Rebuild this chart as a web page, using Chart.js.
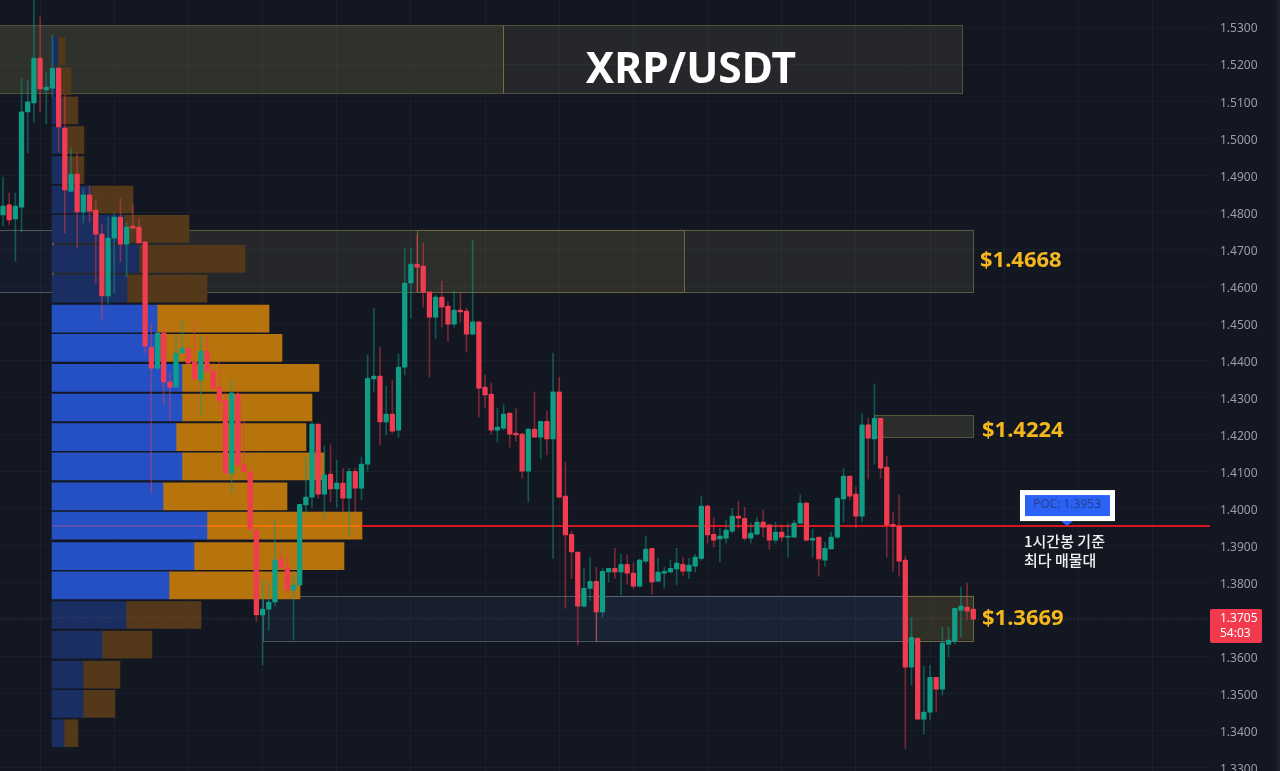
<!DOCTYPE html>
<html lang="ko">
<head>
<meta charset="utf-8">
<title>XRP/USDT</title>
<script src="https://cdn.jsdelivr.net/npm/chart.js@4/dist/chart.umd.min.js"></script>
<style>
  html, body { margin: 0; padding: 0; background: #131722; overflow: hidden; }
  canvas { display: block; }
</style>
</head>
<body>
<canvas id="chart" width="1280" height="771"></canvas>
<script>
// ===== Data =====
const opens = [
  1.4793,1.4820,1.4782,1.4814,1.5071,1.5095,1.5216,1.5130,1.5135,1.5189,
  1.5027,1.4857,1.4903,1.4801,1.4847,1.4806,1.4741,1.4574,1.4730,1.4787,
  1.4714,1.4763,1.4760,1.4720,1.4436,1.4379,1.4474,1.4342,1.4328,1.4420,
  1.4433,1.4396,1.4347,1.4425,1.4371,1.4328,1.4293,1.4096,1.4309,1.4118,
  1.4099,1.3942,1.3713,1.3729,1.3748,1.3864,1.3842,1.3780,1.3794,1.4010,
  1.4031,1.4228,1.4039,1.4093,1.4053,1.4069,1.4028,1.4101,1.4055,1.4120,
  1.4350,1.4358,1.4234,1.4255,1.4212,1.4382,1.4609,1.4660,1.4655,1.4585,
  1.4517,1.4571,1.4547,1.4498,1.4536,1.4533,1.4471,1.4504,1.4328,1.4309,
  1.4212,1.4217,1.4258,1.4204,1.4201,1.4101,1.4215,1.4193,1.4236,1.4188,
  1.4315,1.4034,1.3931,1.3883,1.3737,1.3785,1.3804,1.3721,1.3829,1.3839,
  1.3829,1.3850,1.3826,1.3791,1.3858,1.3893,1.3804,1.3826,1.3829,1.3837,
  1.3850,1.3831,1.3845,1.3866,1.4007,1.3931,1.3918,1.3920,1.3939,1.3980,
  1.3974,1.3920,1.3931,1.3964,1.3956,1.3915,1.3937,1.3923,1.3923,1.3961,
  1.4015,1.3915,1.3923,1.3861,1.3891,1.3923,1.4026,1.4088,1.4039,1.3980,
  1.4226,1.4188,1.4244,1.4112,1.3958,1.3953,1.3861,1.3572,1.3650,1.3432,
  1.3451,1.3545,1.3513,1.3634,1.3642,1.3726,1.3734,1.3729
];
const closes = [
  1.4817,1.4779,1.4817,1.5071,1.5098,1.5216,1.5133,1.5138,1.5189,1.5030,
  1.4860,1.4903,1.4801,1.4847,1.4803,1.4741,1.4574,1.4730,1.4787,1.4714,
  1.4760,1.4757,1.4717,1.4439,1.4379,1.4474,1.4342,1.4328,1.4420,1.4433,
  1.4393,1.4350,1.4425,1.4371,1.4325,1.4290,1.4096,1.4312,1.4118,1.4099,
  1.3945,1.3713,1.3729,1.3748,1.3861,1.3842,1.3780,1.3794,1.4012,1.4031,
  1.4228,1.4039,1.4091,1.4053,1.4069,1.4028,1.4101,1.4055,1.4120,1.4352,
  1.4358,1.4234,1.4255,1.4209,1.4382,1.4609,1.4660,1.4652,1.4585,1.4517,
  1.4571,1.4544,1.4498,1.4536,1.4531,1.4471,1.4504,1.4325,1.4307,1.4212,
  1.4220,1.4255,1.4201,1.4199,1.4101,1.4215,1.4193,1.4236,1.4188,1.4315,
  1.4031,1.3929,1.3883,1.3737,1.3785,1.3804,1.3721,1.3831,1.3839,1.3829,
  1.3850,1.3826,1.3791,1.3861,1.3891,1.3802,1.3829,1.3831,1.3839,1.3853,
  1.3831,1.3848,1.3869,1.4007,1.3929,1.3915,1.3926,1.3942,1.3980,1.3974,
  1.3920,1.3934,1.3964,1.3950,1.3915,1.3937,1.3923,1.3926,1.3961,1.4015,
  1.3915,1.3920,1.3864,1.3893,1.3923,1.4028,1.4088,1.4034,1.3980,1.4226,
  1.4190,1.4244,1.4109,1.3956,1.3953,1.3858,1.3572,1.3653,1.3432,1.3451,
  1.3545,1.3513,1.3637,1.3645,1.3731,1.3737,1.3723,1.3702
];
const highs = [
  1.4895,1.4852,1.4852,1.5160,1.5157,1.5373,1.5327,1.5176,1.5279,1.5192,
  1.5117,1.4973,1.4960,1.4865,1.4871,1.4833,1.4766,1.4787,1.4798,1.4836,
  1.4771,1.4822,1.4784,1.4720,1.4501,1.4474,1.4496,1.4366,1.4469,1.4509,
  1.4436,1.4504,1.4466,1.4463,1.4393,1.4396,1.4312,1.4347,1.4320,1.4239,
  1.4099,1.3950,1.3807,1.3802,1.3969,1.3893,1.3877,1.3820,1.4012,1.4139,
  1.4234,1.4228,1.4169,1.4172,1.4131,1.4109,1.4109,1.4109,1.4139,1.4415,
  1.4541,1.4436,1.4331,1.4347,1.4417,1.4703,1.4703,1.4739,1.4717,1.4585,
  1.4577,1.4614,1.4558,1.4587,1.4582,1.4541,1.4725,1.4504,1.4361,1.4339,
  1.4271,1.4280,1.4258,1.4271,1.4204,1.4217,1.4315,1.4236,1.4263,1.4420,
  1.4355,1.4126,1.3939,1.3883,1.3839,1.3869,1.3842,1.3839,1.3839,1.3893,
  1.3877,1.3875,1.3853,1.3864,1.3926,1.3893,1.3866,1.3842,1.3861,1.3893,
  1.3869,1.3866,1.3877,1.4034,1.4010,1.3977,1.3947,1.3969,1.4001,1.4020,
  1.4004,1.3961,1.3977,1.3996,1.3956,1.3964,1.3956,1.3961,1.3969,1.4037,
  1.4018,1.3945,1.3923,1.3910,1.3937,1.4031,1.4109,1.4088,1.4058,1.4258,
  1.4244,1.4336,1.4244,1.4142,1.3991,1.4037,1.3872,1.3707,1.3653,1.3575,
  1.3577,1.3545,1.3680,1.3680,1.3731,1.3788,1.3799,1.3729
];
const lows = [
  1.4763,1.4766,1.4668,1.4747,1.4960,1.5044,1.5071,1.5038,1.5111,1.4963,
  1.4744,1.4855,1.4703,1.4771,1.4774,1.4609,1.4509,1.4552,1.4582,1.4666,
  1.4625,1.4757,1.4717,1.4420,1.4042,1.4374,1.4280,1.4239,1.4328,1.4420,
  1.4393,1.4347,1.4253,1.4371,1.4325,1.4258,1.4096,1.4042,1.4112,1.4099,
  1.3942,1.3696,1.3578,1.3672,1.3737,1.3839,1.3775,1.3645,1.3788,1.3988,
  1.4001,1.4028,1.3974,1.4018,1.4004,1.3991,1.3929,1.3991,1.4023,1.4101,
  1.4315,1.4172,1.4199,1.4204,1.4193,1.4361,1.4514,1.4585,1.4544,1.4355,
  1.4458,1.4490,1.4452,1.4490,1.4504,1.4423,1.4469,1.4247,1.4274,1.4201,
  1.4180,1.4212,1.4166,1.4182,1.4082,1.4018,1.4193,1.4134,1.4145,1.3866,
  1.4031,1.3731,1.3812,1.3632,1.3734,1.3753,1.3642,1.3707,1.3802,1.3812,
  1.3767,1.3796,1.3785,1.3788,1.3853,1.3769,1.3802,1.3785,1.3826,1.3794,
  1.3820,1.3812,1.3829,1.3861,1.3907,1.3896,1.3856,1.3907,1.3934,1.3947,
  1.3915,1.3907,1.3929,1.3923,1.3891,1.3907,1.3912,1.3869,1.3923,1.3958,
  1.3912,1.3869,1.3818,1.3845,1.3891,1.3920,1.3964,1.4023,1.3947,1.3964,
  1.4080,1.4120,1.4082,1.3869,1.3831,1.3818,1.3353,1.3524,1.3432,1.3391,
  1.3429,1.3451,1.3497,1.3599,1.3634,1.3653,1.3699,1.3702
];

// volume profile, one row per price band
const rowPrices = [
  1.5235,1.5154,1.5075,1.4995,1.4914,1.4834,1.4755,1.4674,1.4594,1.4513,1.4434,1.4353,
  1.4273,1.4193,1.4114,1.4033,1.3954,1.3872,1.3793,1.3713,1.3633,1.3552,1.3473,1.3394
];
const buyVolume  = [6,8,10,14,16,39,72,87,75,105,108,130,130,124,130,111,155,142,117,74,50,31,31,12];
const sellVolume = [7,11,16,18,16,42,65,106,80,112,122,137,130,130,142,124,155,150,131,75,50,37,32,14];
const brightRows = [9,10,11,12,13,14,15,16,17,18];

const pocPrice  = 1.3953;
const lastPrice = 1.3705;
const priceMin  = 1.32919;
const priceMax  = 1.53729;
const timeTicks = [6,18,30,42,54,66,78,90,102,114,126,138,150,162,174,186];

// [from candle, to candle, top price, bottom price, fill, line]
const zones = [
  [-1,   80.9, 1.5305, 1.5122, 'rgba(205,180,70,.07)',  '#6b683a'],
  [-1,  155.2, 1.5305, 1.5122, 'rgba(200,190,120,.10)', '#50533c'],
  [-1,    8,   1.4753, 1.4585, 'rgba(70,90,170,.07)',   '#4c5560'],
  [8,   157,   1.4753, 1.4585, 'rgba(200,190,120,.10)', '#565840'],
  [67,  110.2, 1.4753, 1.4585, 'rgba(205,180,70,.06)',  '#6b6a3e'],
  [141, 157,   1.4252, 1.4193, 'rgba(205,190,100,.13)', '#55563a'],
  [42,  146,   1.3765, 1.3644, 'rgba(90,130,190,.07)',  '#4a5666'],
  [96,  146,   1.3765, 1.3644, 'rgba(70,110,190,.07)',  '#5a6473'],
  [146, 157,   1.3765, 1.3644, 'rgba(205,180,70,.16)',  '#6b6a42']
];

// [text, price at which the label sits]
const levelLabels = [['$1.4668', 1.4668], ['$1.4224', 1.4210], ['$1.3669', 1.3702]];

// ===== Helpers =====
const UP = '#0f9d85', DOWN = '#f03c50';
const candleIdx = opens.map((_, i) => i);
const isUp = i => closes[i] >= opens[i];

// ===== Plugins =====
const zonesPlugin = {
  id: 'zones',
  beforeDatasetsDraw(chart) {
    const { ctx, scales: { x, y } } = chart;
    ctx.save();
    zones.forEach(([a, b, top, bottom, fill, line]) => {
      const x0 = x.getPixelForValue(a), x1 = x.getPixelForValue(b);
      const y0 = y.getPixelForValue(top), y1 = y.getPixelForValue(bottom);
      ctx.fillStyle = fill;
      ctx.fillRect(x0, y0, x1 - x0, y1 - y0);
      ctx.strokeStyle = line;
      ctx.lineWidth = 1;
      ctx.strokeRect(Math.round(x0) + .5, Math.round(y0) + .5, Math.round(x1 - x0), Math.round(y1 - y0));
    });
    ctx.restore();
  }
};

const labelsPlugin = {
  id: 'labels',
  afterDraw(chart) {
    const { ctx, scales: { y } } = chart;
    ctx.save();
    ctx.textBaseline = 'middle';

    // title
    ctx.fillStyle = '#ffffff';
    ctx.textAlign = 'center';
    ctx.font = 'bold 42.5px "Noto Sans"';
    ctx.fillText('XRP/USDT', 691, 71);

    // zone prices
    ctx.fillStyle = '#f4b81c';
    ctx.textAlign = 'left';
    ctx.font = 'bold 22px "Noto Sans"';
    levelLabels.forEach(([t, p], i) => {
      ctx.fillText(t, i === 0 ? 980 : 982, y.getPixelForValue(p));
    });

    // POC tag
    const py = y.getPixelForValue(pocPrice);
    ctx.fillStyle = '#ffffff';
    ctx.fillRect(1020, py - 36, 95, 31);
    ctx.fillStyle = '#2a62f5';
    ctx.fillRect(1025, py - 31, 85, 21);
    ctx.beginPath();
    ctx.moveTo(1061, py - 5);
    ctx.lineTo(1073, py - 5);
    ctx.lineTo(1067, py);
    ctx.closePath();
    ctx.fill();
    ctx.fillStyle = '#24408f';
    ctx.font = '12px "Noto Sans"';
    ctx.textAlign = 'center';
    ctx.fillText('POC: 1.3953', 1067, py - 21);

    ctx.fillStyle = '#f0f0f0';
    ctx.textAlign = 'left';
    ctx.font = '500 15px "Noto Sans CJK KR"';
    ctx.fillText('1시간봉 기준', 1024, py + 15);
    ctx.fillText('최다 매물대', 1024, py + 34);

    // last price tag
    const ly = y.getPixelForValue(lastPrice);
    ctx.fillStyle = '#f23a4c';
    ctx.beginPath();
    ctx.roundRect(1210, ly - 9, 52, 34, 2);
    ctx.fill();
    ctx.fillStyle = '#ffffff';
    ctx.font = '12px "Noto Sans"';
    ctx.fillText(lastPrice.toFixed(4), 1220, ly + 1);
    ctx.fillText('54:03', 1220, ly + 16);

    // right edge of the window
    ctx.fillStyle = '#1f222b';
    ctx.fillRect(1277, 0, 3, 771);
    ctx.restore();
  }
};

// ===== Chart =====
new Chart(document.getElementById('chart'), {
  type: 'bar',
  data: {
    datasets: [
      {
        label: 'body',
        order: 1,
        grouped: false,
        barThickness: 4.6,
        borderRadius: 1,
        data: candleIdx.map(i => ({ x: i, y: [opens[i], closes[i]] })),
        backgroundColor: candleIdx.map(i => isUp(i) ? UP : DOWN)
      },
      {
        label: 'wick',
        order: 2,
        grouped: false,
        barThickness: 1,
        data: candleIdx.map(i => ({ x: i, y: [lows[i], highs[i]] })),
        backgroundColor: candleIdx.map(i => isUp(i) ? 'rgba(15,157,133,.48)' : 'rgba(240,60,80,.45)')
      },
      {
        type: 'line',
        label: 'POC',
        order: 3,
        pointRadius: 0,
        borderWidth: 2,
        borderColor: '#d5161f',
        data: [{ x: 8, y: pocPrice }, { x: 33, y: pocPrice }, { x: 58, y: pocPrice }, { x: 195.3, y: pocPrice }],
        segment: { borderColor: c => ['#5b4fb0', '#ee7406', '#d5161f'][c.p0DataIndex] }
      },
      {
        type: 'line',
        label: 'last',
        order: 3,
        pointRadius: 0,
        borderWidth: 1,
        borderDash: [1, 2],
        borderColor: 'rgba(210,150,150,.22)',
        data: [{ x: -1, y: lastPrice }, { x: 195.3, y: lastPrice }]
      },
      {
        label: 'buy',
        order: 4,
        indexAxis: 'y',
        xAxisID: 'xVol',
        grouped: false,
        barThickness: 27,
        data: rowPrices.map((p, i) => ({ y: p, x: [0, buyVolume[i]] })),
        backgroundColor: rowPrices.map((_, i) => brightRows.includes(i) ? '#2450c4' : '#1b2e62')
      },
      {
        label: 'sell',
        order: 4,
        indexAxis: 'y',
        xAxisID: 'xVol',
        grouped: false,
        barThickness: 27,
        data: rowPrices.map((p, i) => ({ y: p, x: [buyVolume[i], buyVolume[i] + sellVolume[i]] })),
        backgroundColor: rowPrices.map((_, i) => brightRows.includes(i) ? '#b7740c' : '#53391a')
      }
    ]
  },
  options: {
    responsive: false,
    animation: false,
    devicePixelRatio: 1,
    layout: { padding: 0 },
    plugins: { legend: { display: false }, tooltip: { enabled: false } },
    scales: {
      x: {
        type: 'linear',
        offset: false,
        min: -0.485,
        max: 195.3,
        border: { display: false },
        grid: { offset: false, color: 'rgba(255,255,255,.03)', drawTicks: false },
        ticks: { display: false },
        afterBuildTicks: s => { s.ticks = timeTicks.map(value => ({ value })); },
        afterFit: s => { s.height = 0; }
      },
      xVol: {
        type: 'linear',
        display: false,
        offset: false,
        min: -52,
        max: 1158
      },
      y: {
        type: 'linear',
        position: 'right',
        offset: false,
        min: priceMin,
        max: priceMax,
        border: { display: false },
        grid: { offset: false, color: 'rgba(255,255,255,.03)', drawTicks: false },
        ticks: {
          stepSize: 0.01,
          includeBounds: false,
          padding: 10,
          color: '#9a9ea8',
          font: { family: '"Noto Sans"', size: 12, lineHeight: '4px' },
          // empty first line nudges the text 2px down to sit on its gridline
          callback: v => ['', v.toFixed(4)]
        },
        afterFit: s => { s.width = 70; s.paddingTop = 0; s.paddingBottom = 0; }
      }
    }
  },
  plugins: [zonesPlugin, labelsPlugin]
});
</script>
</body>
</html>
